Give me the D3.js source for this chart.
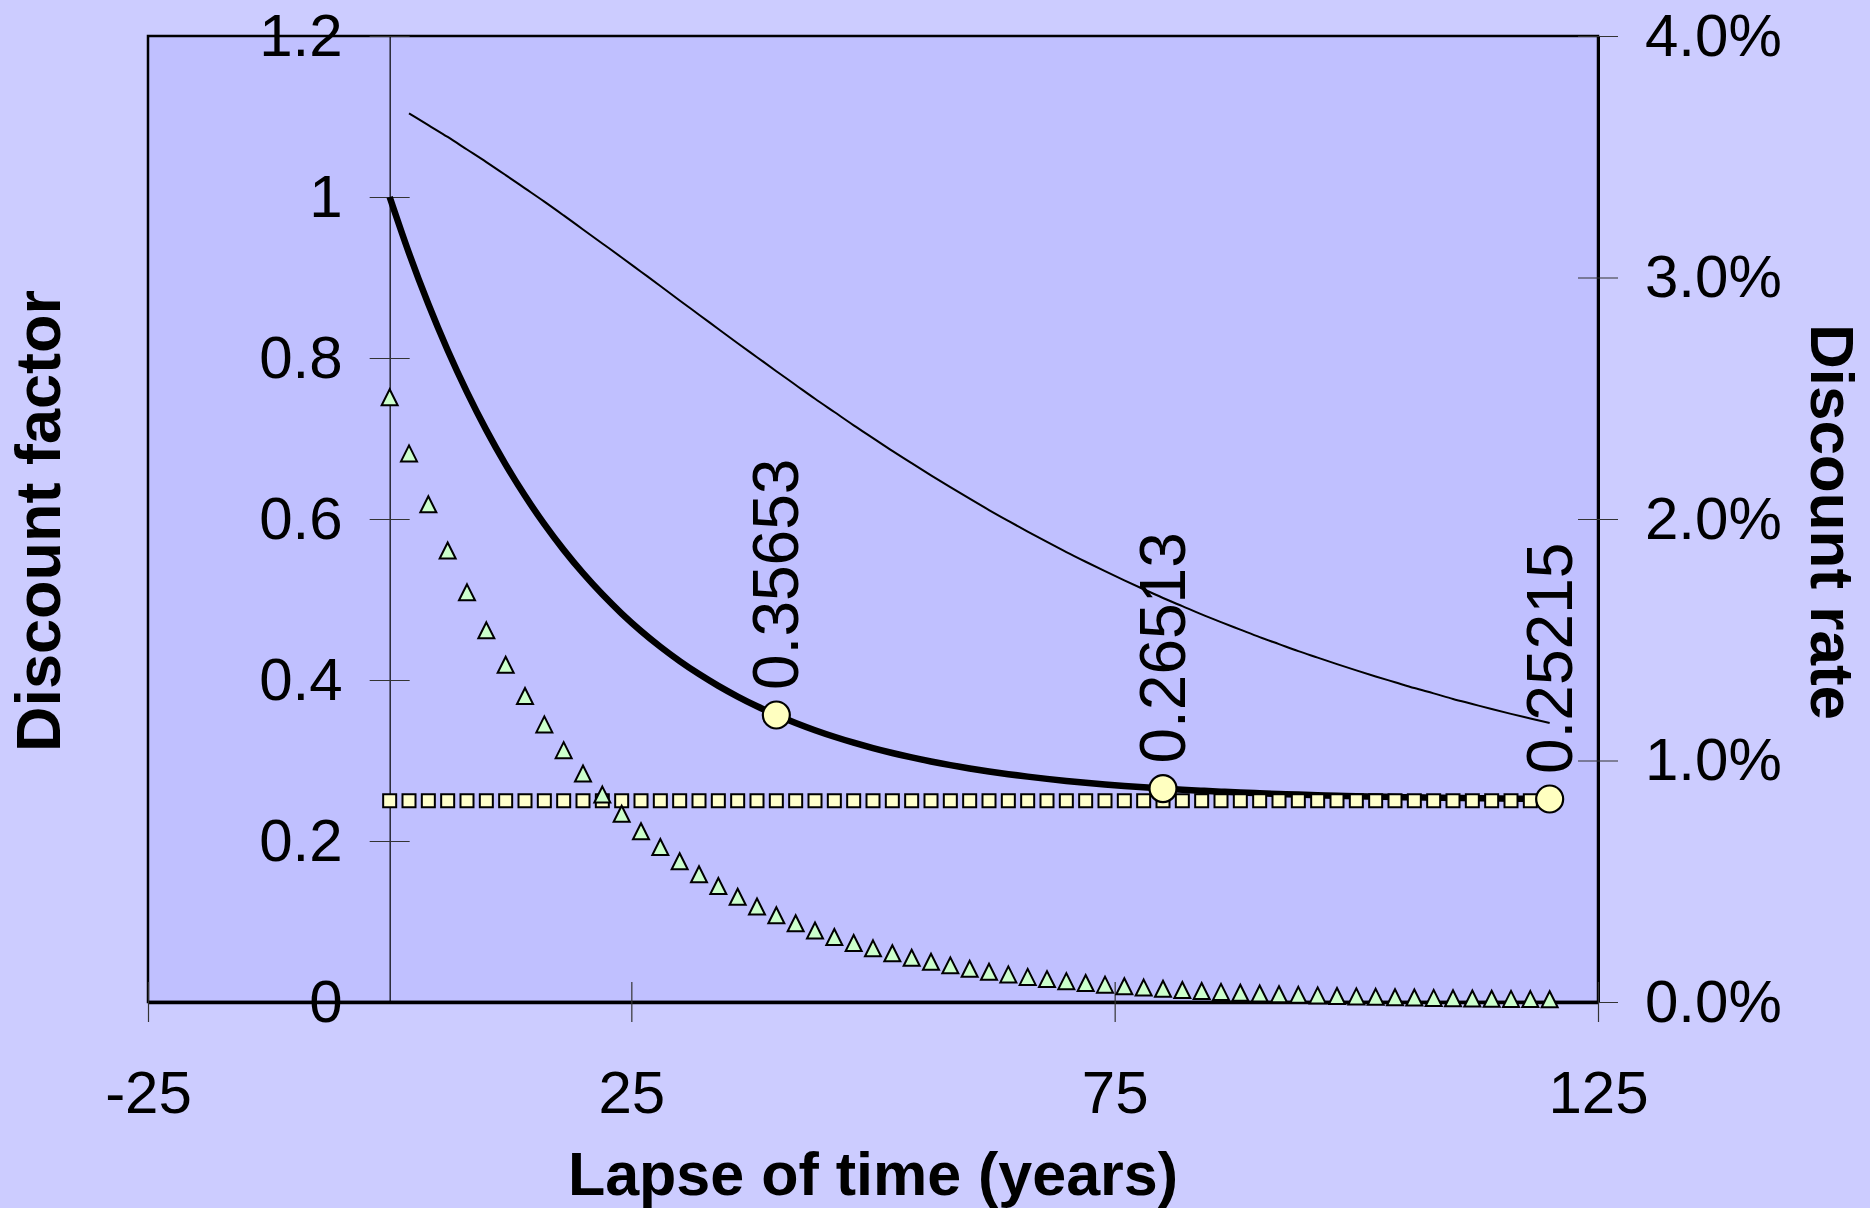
<!DOCTYPE html>
<html>
<head>
<meta charset="utf-8">
<script src="https://cdn.jsdelivr.net/npm/d3@7"></script>
<style>
  html, body { margin: 0; padding: 0; background: #CCCCFF; }
  svg { display: block; font-family: "Liberation Sans", Arial, sans-serif; }
</style>
</head>
<body>
<svg id="chart" width="1870" height="1208"></svg>
<script>
// Years since the start (every two years)
const years = [0,2,4,6,8,10,12,14,16,18,20,22,24,26,28,30,32,34,36,38,40,42,44,46,48,50,52,54,56,58,60,62,64,66,68,70,72,74,76,78,80,82,84,86,88,90,92,94,96,98,100,102,104,106,108,110,112,114,116,118,120];

// Combined discount factor (left axis)
const discountFactor = [1.00000,0.93027,0.86703,0.80966,0.75763,0.71043,0.66763,0.62880,0.59358,0.56164,0.53267,0.50639,0.48255,0.46093,0.44132,0.42353,0.40740,0.39277,0.37949,0.36745,0.35653,0.34663,0.33765,0.32950,0.32211,0.31540,0.30932,0.30381,0.29880,0.29427,0.29015,0.28642,0.28303,0.27996,0.27718,0.27465,0.27236,0.27028,0.26839,0.26668,0.26513,0.26373,0.26245,0.26129,0.26024,0.25929,0.25843,0.25764,0.25693,0.25629,0.25570,0.25517,0.25469,0.25426,0.25386,0.25350,0.25318,0.25288,0.25261,0.25237,0.25215];

// Component discounted at 5% (triangles)
const declining = [0.75000,0.68027,0.61703,0.55966,0.50763,0.46043,0.41763,0.37880,0.34358,0.31164,0.28267,0.25639,0.23255,0.21093,0.19132,0.17353,0.15740,0.14277,0.12949,0.11745,0.10653,0.09663,0.08765,0.07950,0.07211,0.06540,0.05932,0.05381,0.04880,0.04427,0.04015,0.03642,0.03303,0.02996,0.02718,0.02465,0.02236,0.02028,0.01839,0.01668,0.01513,0.01373,0.01245,0.01129,0.01024,0.00929,0.00843,0.00764,0.00693,0.00629,0.00570,0.00517,0.00469,0.00426,0.00386,0.00350,0.00318,0.00288,0.00261,0.00237,0.00215];

// Undiscounted component (squares)
const constant = [0.25,0.25,0.25,0.25,0.25,0.25,0.25,0.25,0.25,0.25,0.25,0.25,0.25,0.25,0.25,0.25,0.25,0.25,0.25,0.25,0.25,0.25,0.25,0.25,0.25,0.25,0.25,0.25,0.25,0.25,0.25,0.25,0.25,0.25,0.25,0.25,0.25,0.25,0.25,0.25,0.25,0.25,0.25,0.25,0.25,0.25,0.25,0.25,0.25,0.25,0.25,0.25,0.25,0.25,0.25,0.25,0.25,0.25,0.25,0.25,0.25];

// Equivalent annual discount rate (right axis), from year 2 onwards
const rateYears = [2,4,6,8,10,12,14,16,18,20,22,24,26,28,30,32,34,36,38,40,42,44,46,48,50,52,54,56,58,60,62,64,66,68,70,72,74,76,78,80,82,84,86,88,90,92,94,96,98,100,102,104,106,108,110,112,114,116,118,120];
const discountRate = [0.03680,0.03631,0.03582,0.03530,0.03478,0.03424,0.03369,0.03314,0.03257,0.03199,0.03141,0.03083,0.03024,0.02965,0.02905,0.02846,0.02787,0.02728,0.02670,0.02612,0.02555,0.02498,0.02443,0.02388,0.02335,0.02282,0.02231,0.02181,0.02132,0.02084,0.02037,0.01992,0.01948,0.01905,0.01863,0.01823,0.01784,0.01746,0.01709,0.01673,0.01639,0.01605,0.01573,0.01542,0.01511,0.01482,0.01453,0.01426,0.01399,0.01373,0.01348,0.01324,0.01300,0.01278,0.01255,0.01234,0.01213,0.01193,0.01174,0.01155];

// Highlighted points with value labels
const labelYears = [40, 80, 120];
const labelValues = [0.35653, 0.26513, 0.25215];

// Axis ticks
const xTicks = [-25, 25, 75, 125];
const leftTicks = [0, 0.2, 0.4, 0.6, 0.8, 1, 1.2];
const rightTicks = [0, 0.01, 0.02, 0.03, 0.04];

const svg = d3.select("#chart");
const W = 1870, H = 1208;
const plot = { left: 148, top: 36, right: 1598, bottom: 1002 };

const x = d3.scaleLinear().domain([-25, 125]).range([plot.left, plot.right]);
const yL = d3.scaleLinear().domain([0, 1.2]).range([plot.bottom, plot.top]);
const yR = d3.scaleLinear().domain([0, 0.04]).range([plot.bottom, plot.top]);

svg.append("rect").attr("width", W).attr("height", H).attr("fill", "#CCCCFF");

// Plot area
svg.append("rect")
  .attr("x", plot.left).attr("y", plot.top)
  .attr("width", plot.right - plot.left).attr("height", plot.bottom - plot.top)
  .attr("fill", "#C0C0FF").attr("stroke", "#000").attr("stroke-width", 2.5);

const tickFont = 60;
const TICK = 20;

// Left axis, standing on year 0
const gL = svg.append("g").attr("transform", `translate(${x(0)},0)`)
  .call(d3.axisLeft(yL).tickValues(leftTicks).tickFormat(d => String(d))
    .tickSizeInner(TICK).tickSizeOuter(0).tickPadding(27));
gL.select(".domain").attr("stroke", "#000").attr("stroke-width", 1.2);
gL.selectAll(".tick line").attr("x1", TICK).attr("x2", -TICK).attr("stroke", "#333").attr("stroke-width", 1.2);
gL.selectAll(".tick text").attr("font-size", tickFont).attr("fill", "#000")
  .attr("font-family", "Liberation Sans, Arial, sans-serif");

// Right axis
const gR = svg.append("g").attr("transform", `translate(${plot.right},0)`)
  .call(d3.axisRight(yR).tickValues(rightTicks).tickFormat(d3.format(".1%"))
    .tickSizeInner(TICK).tickSizeOuter(0).tickPadding(27));
gR.select(".domain").attr("stroke", "#000").attr("stroke-width", 3);
gR.selectAll(".tick line").attr("x1", -TICK).attr("x2", TICK).attr("stroke", "#333").attr("stroke-width", 1.2);
gR.selectAll(".tick text").attr("font-size", tickFont).attr("fill", "#000")
  .attr("font-family", "Liberation Sans, Arial, sans-serif");

// Bottom axis
const gB = svg.append("g").attr("transform", `translate(0,${plot.bottom})`)
  .call(d3.axisBottom(x).tickValues(xTicks).tickFormat(d => String(d))
    .tickSizeInner(TICK).tickSizeOuter(0).tickPadding(48));
gB.select(".domain").attr("stroke", "#000").attr("stroke-width", 3.5);
gB.selectAll(".tick line").attr("y1", -TICK).attr("y2", TICK).attr("stroke", "#333").attr("stroke-width", 1.2);
gB.selectAll(".tick text").attr("font-size", tickFont).attr("fill", "#000")
  .attr("font-family", "Liberation Sans, Arial, sans-serif");

// Discount factor curve
const dfData = years.map((t, i) => [t, discountFactor[i]]);
svg.append("path")
  .datum(dfData)
  .attr("fill", "none").attr("stroke", "#000").attr("stroke-width", 6.5)
  .attr("stroke-linejoin", "round")
  .attr("d", d3.line().x(d => x(d[0])).y(d => yL(d[1])).curve(d3.curveMonotoneX));

// Constant component: squares
const sq = 13;
svg.append("g").selectAll("rect")
  .data(years.map((t, i) => [t, constant[i]]))
  .join("rect")
  .attr("x", d => x(d[0]) - sq / 2).attr("y", d => yL(d[1]) - sq / 2)
  .attr("width", sq).attr("height", sq)
  .attr("fill", "#FFFFCC").attr("stroke", "#000").attr("stroke-width", 2);

// Declining component: triangles
const tri = "M0,-9L8,7L-8,7Z";
svg.append("g").selectAll("path")
  .data(years.map((t, i) => [t, declining[i]]))
  .join("path")
  .attr("transform", d => `translate(${x(d[0])},${yL(d[1])})`)
  .attr("d", tri)
  .attr("fill", "#CCFFCC").attr("stroke", "#000").attr("stroke-width", 2)
  .attr("stroke-linejoin", "miter");

// Discount rate (right axis)
svg.append("path")
  .datum(rateYears.map((t, i) => [t, discountRate[i]]))
  .attr("fill", "none").attr("stroke", "#000").attr("stroke-width", 2)
  .attr("d", d3.line().x(d => x(d[0])).y(d => yR(d[1])).curve(d3.curveMonotoneX));

// Highlighted points
const pts = labelYears.map((t, i) => [t, labelValues[i]]);
svg.append("g").selectAll("circle")
  .data(pts).join("circle")
  .attr("cx", d => x(d[0])).attr("cy", d => yL(d[1])).attr("r", 13.5)
  .attr("fill", "#FFFFC0").attr("stroke", "#000").attr("stroke-width", 2.2);

svg.append("g").selectAll("text")
  .data(pts).join("text")
  .attr("transform", d => `translate(${x(d[0])},${yL(d[1]) - 25}) rotate(-90)`)
  .attr("text-anchor", "start").attr("dominant-baseline", "central")
  .attr("font-size", 64).attr("fill", "#000")
  .text(d => String(d[1]));

// Axis titles
svg.append("text")
  .attr("x", (plot.left + plot.right) / 2).attr("y", 1195)
  .attr("text-anchor", "middle").attr("font-size", 61).attr("font-weight", "bold")
  .text("Lapse of time (years)");

svg.append("text")
  .attr("transform", "translate(60,521) rotate(-90)")
  .attr("text-anchor", "middle").attr("font-size", 63).attr("font-weight", "bold")
  .text("Discount factor");

svg.append("text")
  .attr("transform", "translate(1811,522) rotate(90)")
  .attr("text-anchor", "middle").attr("font-size", 62).attr("font-weight", "bold")
  .text("Discount rate");
</script>
</body>
</html>
